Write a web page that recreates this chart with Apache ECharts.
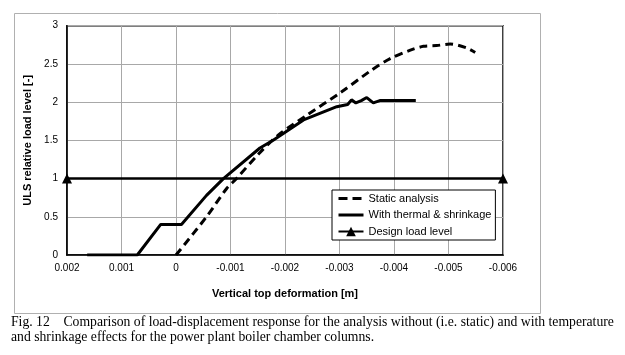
<!DOCTYPE html>
<html>
<head>
<meta charset="utf-8">
<script src="https://cdn.jsdelivr.net/npm/echarts@6/dist/echarts.min.js"></script>
<style>
html,body{margin:0;padding:0;background:#fff;}
#chart{width:625px;height:355px;}
</style>
</head>
<body>
<div id="chart"></div>
<script>
// ---- data (x in metres, y = ULS relative load level) ----
var staticX = [0, -0.00056, -0.00093, -0.00111, -0.00150, -0.00188, -0.00240, -0.00301, -0.00359, -0.00393, -0.00430, -0.00454, -0.00478, -0.00503, -0.00533, -0.00549];
var staticY = [0, 0.50, 0.87, 1.00, 1.31, 1.57, 1.83, 2.12, 2.42, 2.57, 2.68, 2.73, 2.74, 2.76, 2.71, 2.65];

var thermalX = [0.00163, 0.00071, 0.00028, -0.00010, -0.00056, -0.00087, -0.00154, -0.00179, -0.00234, -0.00295, -0.00315, -0.00322, -0.00330, -0.00340, -0.00350, -0.00362, -0.00374, -0.00440];
var thermalY = [0, 0, 0.40, 0.40, 0.78, 1.00, 1.40, 1.505, 1.767, 1.94, 1.97, 2.03, 1.99, 2.02, 2.06, 1.99, 2.02, 2.02];

var designX = [0.002, -0.006];
var designY = [1, 1];

var seriesNames = ['Static analysis', 'With thermal & shrinkage', 'Design load level'];
var xTicks = [0.002, 0.001, 0, -0.001, -0.002, -0.003, -0.004, -0.005, -0.006];
var yTicks = [0, 0.5, 1, 1.5, 2, 2.5, 3];

var captionLines = [
  'Fig. 12    Comparison of load-displacement response for the analysis without (i.e. static) and with temperature',
  'and shrinkage effects for the power plant boiler chamber columns.'
];

function zip(xs, ys) { return xs.map(function (x, i) { return [x, ys[i]]; }); }

function fmtX(v) {
  var r = Math.round(v * 1000) / 1000;
  if (Math.abs(r) < 1e-9) return '0';
  return r.toFixed(3);
}

var chart = echarts.init(document.getElementById('chart'), null, {renderer: 'canvas'});
var sans = 'Arial, "Liberation Sans", sans-serif';
var serif = '"Times New Roman", "Liberation Serif", serif';

chart.setOption({
  backgroundColor: '#fff',
  animation: false,
  grid: {
    left: 67, top: 25.7, width: 436, height: 229.3,
    show: true, borderColor: '#000', borderWidth: 1.5, backgroundColor: 'transparent'
  },
  legend: {
    orient: 'vertical',
    left: 332, top: 190,
    padding: [3, 4, 3, 5],
    itemWidth: 25, itemHeight: 12, itemGap: 5.5,
    borderColor: '#000', borderWidth: 1, backgroundColor: '#fff',
    textStyle: {fontFamily: sans, fontSize: 11, color: '#000'},
    data: [
      {name: seriesNames[0], itemStyle: {opacity: 0}, lineStyle: {type: [9, 5], width: 3}},
      {name: seriesNames[1], itemStyle: {opacity: 0}, lineStyle: {width: 3}},
      {name: seriesNames[2]}
    ]
  },
  xAxis: {
    type: 'value',
    inverse: true,
    min: xTicks[xTicks.length - 1], max: xTicks[0], interval: 0.001,
    name: 'Vertical top deformation [m]',
    nameLocation: 'middle', nameGap: 33,
    nameTextStyle: {fontFamily: sans, fontSize: 11, fontWeight: 'bold', color: '#000'},
    axisLine: {show: true, onZero: false, lineStyle: {color: '#000', width: 1.5}},
    axisTick: {show: false},
    axisLabel: {formatter: fmtX, fontFamily: sans, fontSize: 10, color: '#000', margin: 8},
    splitLine: {show: true, lineStyle: {color: '#a8a8a8', width: 1}}
  },
  yAxis: {
    type: 'value',
    min: yTicks[0], max: yTicks[yTicks.length - 1], interval: 0.5,
    name: 'ULS relative load level [-]',
    nameLocation: 'middle', nameGap: 30, nameRotate: 90,
    nameTextStyle: {fontFamily: sans, fontSize: 11, fontWeight: 'bold', color: '#000'},
    axisLine: {show: true, onZero: false, lineStyle: {color: '#000', width: 1.5}},
    axisTick: {show: false},
    axisLabel: {fontFamily: sans, fontSize: 10, color: '#000', margin: 9},
    splitLine: {show: true, lineStyle: {color: '#a8a8a8', width: 1}}
  },
  series: [
    {
      name: seriesNames[0], type: 'line', data: zip(staticX, staticY),
      symbol: 'none', smooth: 0.3, color: '#000',
      lineStyle: {color: '#000', width: 3, type: [8, 5]}
    },
    {
      name: seriesNames[1], type: 'line', data: zip(thermalX, thermalY),
      symbol: 'none', color: '#000',
      lineStyle: {color: '#000', width: 3}
    },
    {
      name: seriesNames[2], type: 'line', data: zip(designX, designY),
      symbol: 'triangle', symbolSize: 10, clip: false, color: '#000',
      itemStyle: {color: '#000'},
      lineStyle: {color: '#000', width: 2.5}
    }
  ],
  graphic: [
    {
      type: 'rect', left: 12, top: 11, z: -1,
      shape: {width: 526, height: 300},
      style: {fill: 'none', stroke: '#b0b0b0', lineWidth: 1}
    },
    {
      type: 'text', left: 11, top: 315,
      style: {text: captionLines[0], font: '13.7px ' + serif, fill: '#000'}
    },
    {
      type: 'text', left: 11, top: 330,
      style: {text: captionLines[1], font: '13.7px ' + serif, fill: '#000'}
    }
  ]
});
</script>
</body>
</html>
